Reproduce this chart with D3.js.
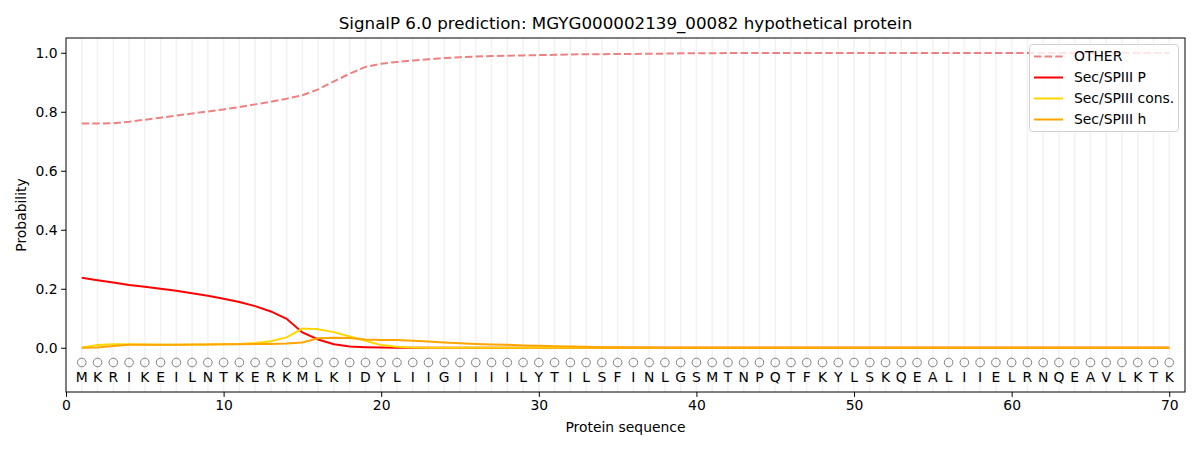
<!DOCTYPE html>
<html><head><meta charset="utf-8">
<script src="https://cdn.jsdelivr.net/npm/d3@7"></script>
<style>body{margin:0;background:#fff}svg{font-family:"DejaVu Sans",sans-serif}</style>
</head><body><svg id="c" width="1200" height="450"></svg>
<script>
const sequence = "MKRIKEILNTKERKMLKIDYLIIGIIIILYTILSFINLGSMTNPQTFKYLSKQEALIIELRNQEAVLKTK".split("");
const otherVals = [0.760,0.760,0.761,0.766,0.773,0.780,0.787,0.794,0.801,0.808,0.816,0.825,0.834,0.844,0.856,0.876,0.903,0.929,0.952,0.963,0.969,0.974,0.978,0.982,0.985,0.987,0.989,0.990,0.991,0.992,0.993,0.994,0.995,0.995,0.996,0.996,0.997,0.997,0.998,0.998,0.998,0.999,0.999,0.999,0.999,0.999,0.999,0.999,0.999,0.999,0.999,0.999,0.999,0.999,0.999,0.999,0.999,0.999,0.999,0.999,0.999,0.999,0.999,0.999,0.999,0.999,0.999,0.999,0.999,0.999];
const pVals = [0.237,0.229,0.221,0.213,0.207,0.200,0.193,0.185,0.176,0.166,0.155,0.141,0.123,0.098,0.052,0.028,0.012,0.004,0.002,0.001,0,0,0,0,0,0,0,0,0,0,0,0,0,0,0,0,0,0,0,0,0,0,0,0,0,0,0,0,0,0,0,0,0,0,0,0,0,0,0,0,0,0,0,0,0,0,0,0,0,0];
const consVals = [0.000,0.009,0.012,0.012,0.011,0.010,0.010,0.010,0.011,0.012,0.013,0.016,0.022,0.035,0.065,0.063,0.053,0.038,0.024,0.009,0.003,0.001,0,0,0,0,0,0,0,0,0,0,0,0,0,0,0,0,0,0,0,0,0,0,0,0,0,0,0,0,0,0,0,0,0,0,0,0,0,0,0,0,0,0,0,0,0,0,0,0];
const hVals = [0.000,0.001,0.006,0.010,0.010,0.010,0.010,0.011,0.011,0.012,0.012,0.013,0.013,0.014,0.018,0.032,0.034,0.033,0.028,0.026,0.026,0.024,0.021,0.018,0.015,0.013,0.011,0.010,0.008,0.007,0.005,0.004,0.003,0.002,0.002,0.001,0.001,0,0,0,0,0,0,0,0,0,0,0,0,0,0,0,0,0,0,0,0,0,0,0,0,0,0,0,0,0,0,0,0,0];
const xTicks = [0,10,20,30,40,50,60,70];
const yTicks = [0.0,0.2,0.4,0.6,0.8,1.0];
const seriesNames = ["OTHER","Sec/SPIII P","Sec/SPIII cons.","Sec/SPIII h"];
const seriesColors = ["#f08080","#ff0000","#ffd700","#ffa500"];
const series = [otherVals,pVals,consVals,hVals];

const svg = d3.select("#c");
const L=66,R=1185,T=38,B=392;
const x = d3.scaleLinear().domain([0,71]).range([L,R]);
const y = d3.scaleLinear().domain([-0.15,1.05]).range([B,T]);
const pos = sequence.map((_,i)=>i+1);

// grid lines
svg.append("g").selectAll("line").data(pos).join("line")
  .attr("x1",d=>x(d)).attr("x2",d=>x(d)).attr("y1",T).attr("y2",B)
  .attr("stroke","#f2f2f2").attr("stroke-width",1.5);

// circles and letters
svg.append("g").selectAll("circle").data(pos).join("circle")
  .attr("cx",d=>x(d)).attr("cy",y(-0.05)).attr("r",4.3)
  .attr("fill","none").attr("stroke","#808080").attr("stroke-width",1);
svg.append("g").selectAll("text").data(sequence).join("text")
  .attr("x",(d,i)=>x(i+1)).attr("y",y(-0.1)).attr("dy","0.35em")
  .attr("text-anchor","middle").attr("font-size",13.9).attr("fill","#000").text(d=>d);

// lines
const line = d3.line().x((d,i)=>x(i+1)).y(d=>y(d));
series.forEach((s,k)=>{
  svg.append("path").datum(s).attr("d",line).attr("fill","none")
    .attr("stroke",seriesColors[k]).attr("stroke-width",2)
    .attr("stroke-dasharray",k===0?"7.4,3.2":null);
});

// axes
const xa = svg.append("g").attr("transform",`translate(0,${B})`)
  .call(d3.axisBottom(x).tickValues(xTicks).tickSize(4.9).tickPadding(3.5).tickFormat(d3.format("d")));
const ya = svg.append("g").attr("transform",`translate(${L},0)`)
  .call(d3.axisLeft(y).tickValues(yTicks).tickSize(4.9).tickPadding(3.5).tickFormat(d3.format(".1f")));
[xa,ya].forEach(a=>{a.selectAll("text").attr("font-size",13.9).attr("font-family","DejaVu Sans").attr("fill","#000");
  a.selectAll("line").attr("stroke","#000"); a.select(".domain").remove();});
svg.append("rect").attr("x",L).attr("y",T).attr("width",R-L).attr("height",B-T)
  .attr("fill","none").attr("stroke","#000").attr("stroke-width",1);

// labels
svg.append("text").attr("x",(L+R)/2).attr("y",29).attr("text-anchor","middle")
  .attr("font-size",16.7).text("SignalP 6.0 prediction: MGYG000002139_00082 hypothetical protein");
svg.append("text").attr("x",(L+R)/2).attr("y",432).attr("text-anchor","middle")
  .attr("font-size",13.9).text("Protein sequence");
svg.append("text").attr("transform",`translate(26,${(T+B)/2}) rotate(-90)`).attr("text-anchor","middle")
  .attr("font-size",13.9).text("Probability");

// legend
const lg = svg.append("g");
lg.append("rect").attr("x",1029.5).attr("y",44.5).attr("width",149).attr("height",87).attr("rx",3)
  .attr("fill","#fff").attr("fill-opacity",0.8).attr("stroke","#d0d0d0");
seriesNames.forEach((n,k)=>{
  const yy = 56.5 + k*21;
  lg.append("line").attr("x1",1034).attr("x2",1063).attr("y1",yy).attr("y2",yy)
    .attr("stroke",seriesColors[k]).attr("stroke-width",2).attr("stroke-dasharray",k===0?"7.4,3.2":null);
  lg.append("text").attr("x",1074).attr("y",yy).attr("dy","0.35em").attr("font-size",13.9).text(n);
});
</script></body></html>
